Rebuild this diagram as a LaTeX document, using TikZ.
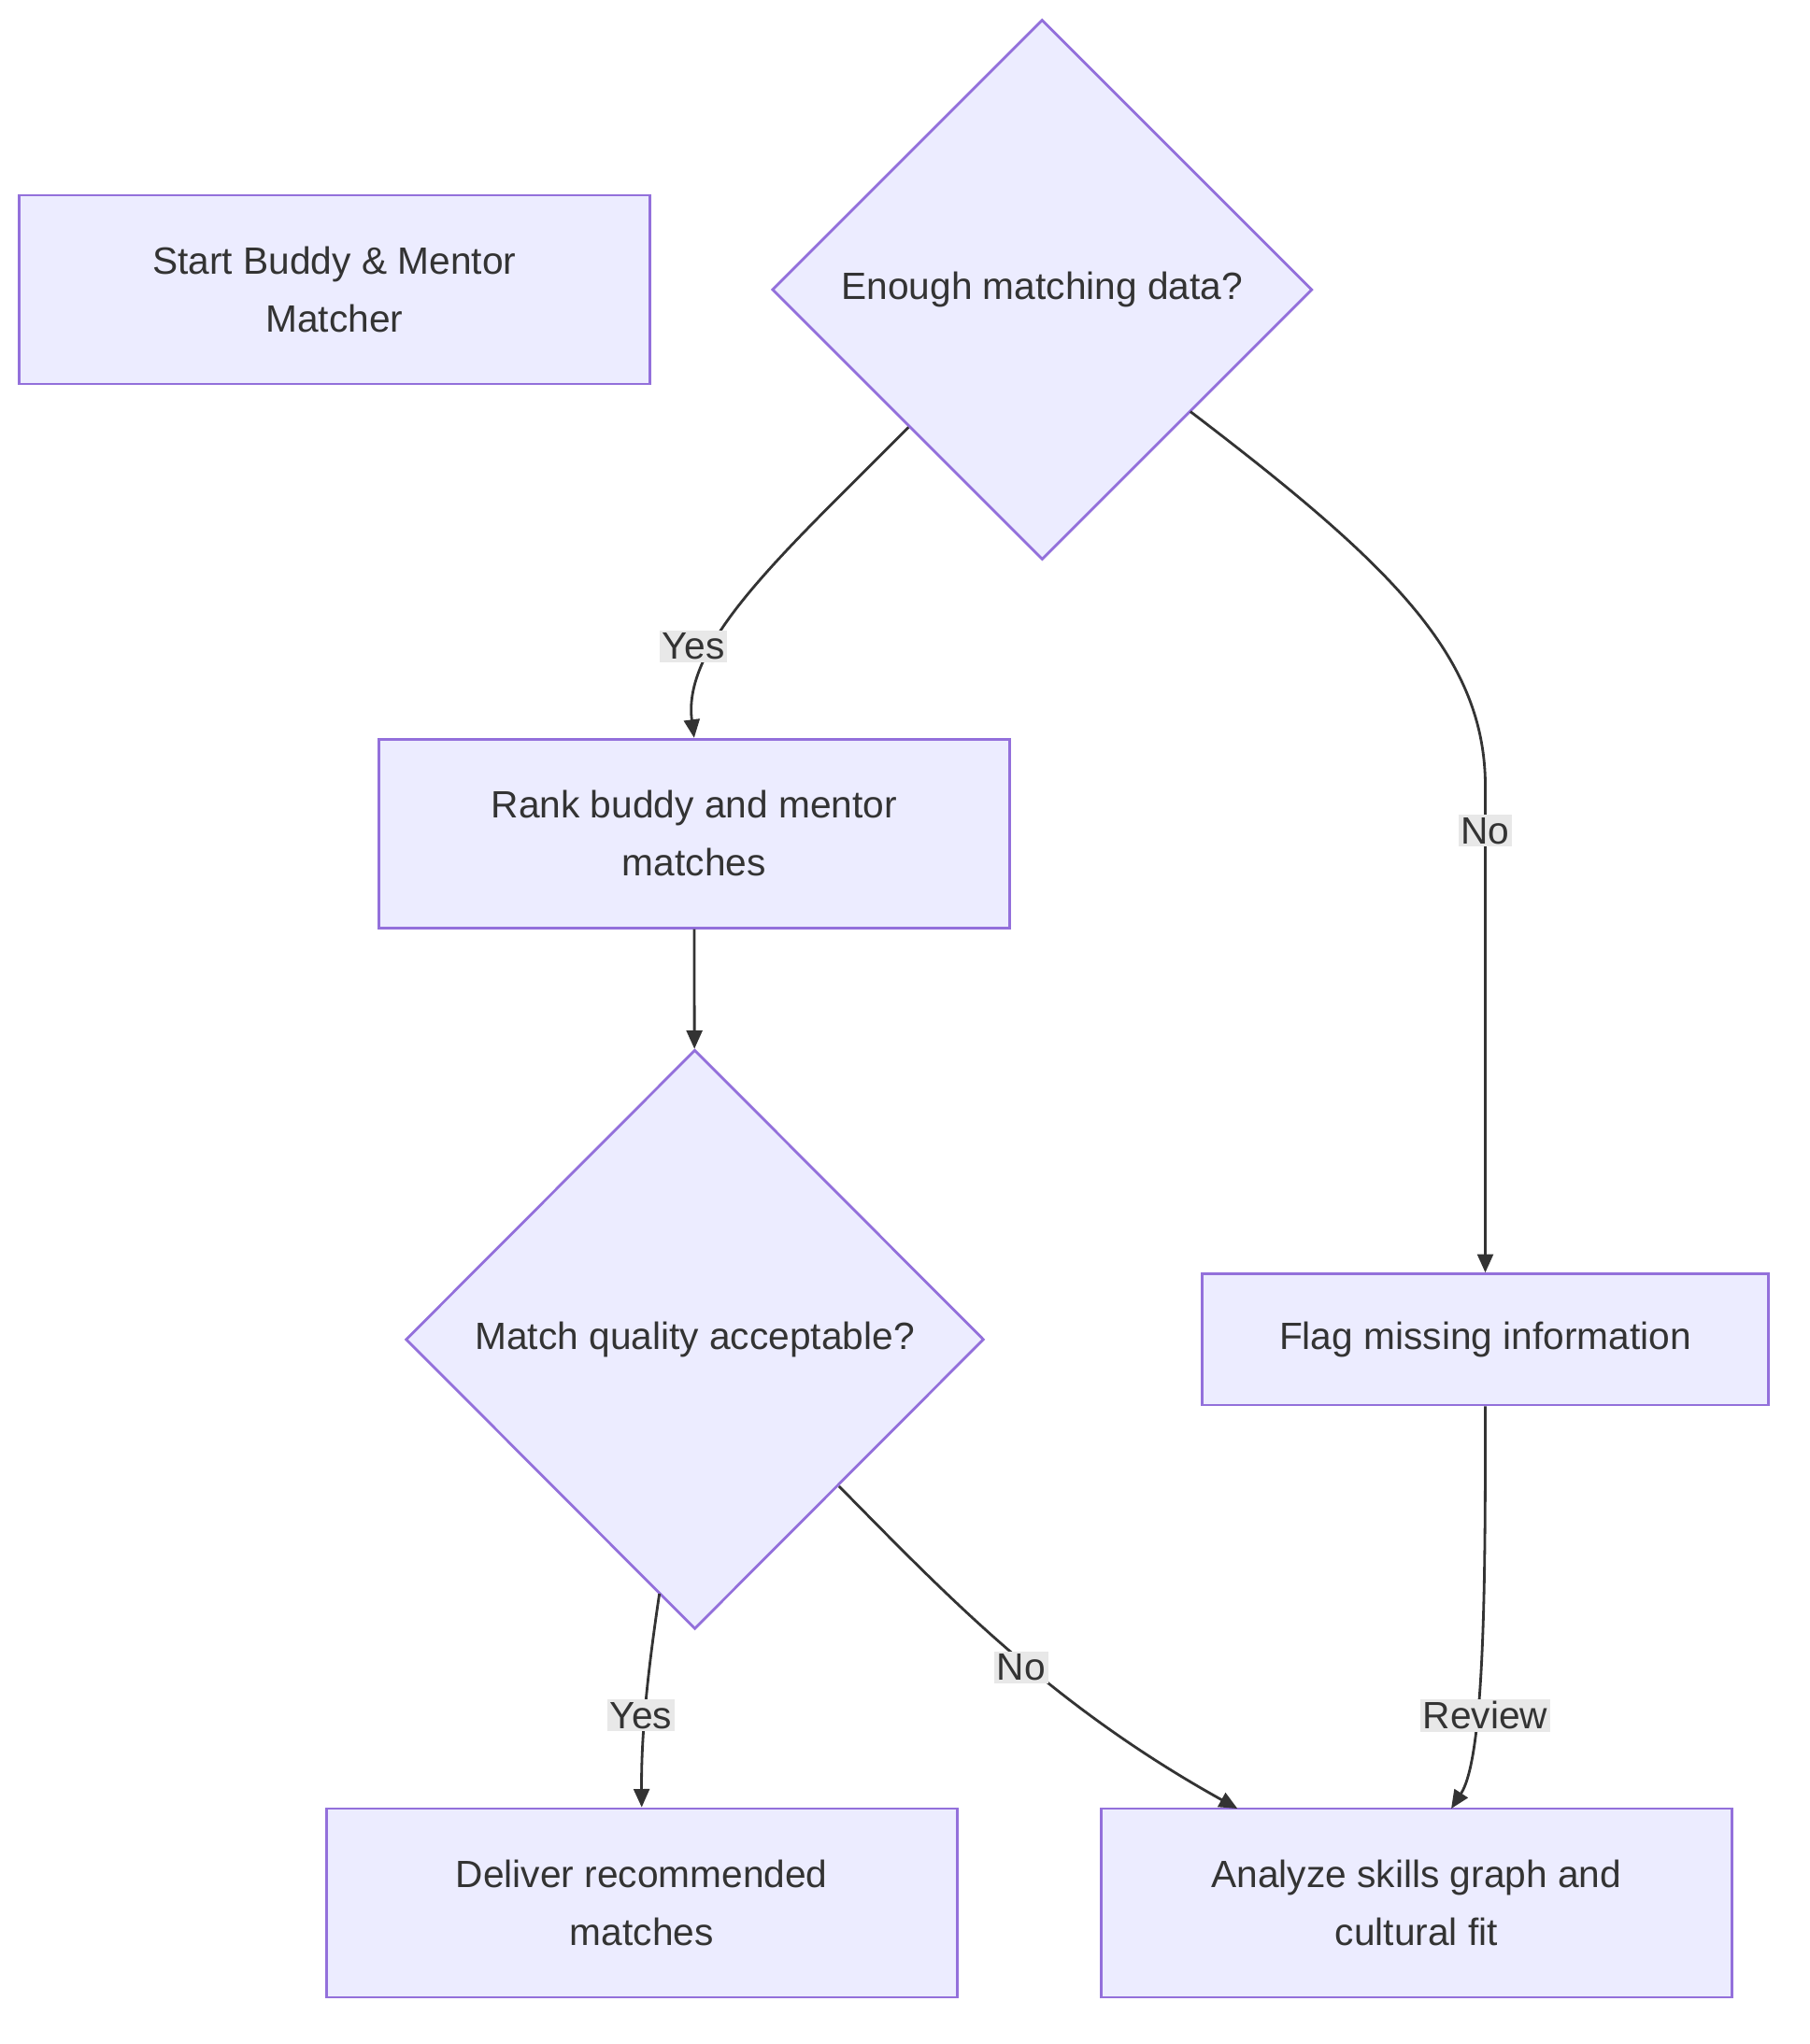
\documentclass[tikz,border=0pt]{standalone}
\usepackage{fontspec}
\setmainfont{Liberation Sans}
\usetikzlibrary{shapes.geometric,arrows.meta}
\definecolor{nfill}{HTML}{ECECFF}
\definecolor{nstroke}{HTML}{9370DB}
\definecolor{txt}{HTML}{333333}
\definecolor{lbg}{HTML}{E8E8E8}
\begin{document}
\begin{tikzpicture}[x=0.5pt,y=-0.5pt,
  box/.style={draw=nstroke,fill=nfill,line width=1pt,text=txt,align=center,font=\fontsize{14.5}{22}\selectfont,inner sep=0},
  edge/.style={draw=txt,line width=1pt,-{Triangle[length=7pt,width=6pt]}},
  lbl/.style={fill=lbg,text=txt,font=\fontsize{14.5}{17}\selectfont,inner sep=1pt}]
\useasboundingbox (0,0) rectangle (1380,1559.6);
\node[box,minimum width=240.5pt,minimum height=72pt] (start) at (255,221) {Start Buddy \& Mentor\\Matcher};
\node[box,diamond,minimum width=206pt,minimum height=206pt] (d1) at (795,221) {Enough matching data?};
\node[box,minimum width=240.5pt,minimum height=72pt] (rank) at (529.5,636) {Rank buddy and mentor\\matches};
\node[box,diamond,minimum width=220.5pt,minimum height=221pt] (d2) at (530,1022) {Match quality acceptable?};
\node[box,minimum width=216pt,minimum height=50pt] (flag) at (1133,1022) {Flag missing information};
\node[box,minimum width=240.5pt,minimum height=72pt] (deliver) at (489.5,1452) {Deliver recommended\\matches};
\node[box,minimum width=240.5pt,minimum height=72pt] (analyze) at (1080.5,1452) {Analyze skills graph and\\cultural fit};
\coordinate (a1) at (693,326);
\coordinate (a2) at (908,314);
\coordinate (a3) at (503,1216);
\coordinate (a4) at (640,1134);
\draw[edge] (a1) .. controls (600,420) and (520,490) .. (rank.north);
\node[lbl] at (529,493) {Yes};
\draw[edge] (a2) .. controls (1060,430) and (1133,500) .. (1133,600) -- (flag.north);
\node[lbl] at (1133,634) {No};
\draw[edge] (rank) -- (d2);
\draw[edge] (a3) .. controls (495,1270) and (489,1320) .. (deliver.north);
\node[lbl] at (489,1309) {Yes};
\draw[edge] (a4) .. controls (720,1215) and (800,1300) .. (944,1380);
\node[lbl] at (779,1272) {No};
\draw[edge] (flag.south) .. controls (1133,1200) and (1133,1340) .. (1107,1380);
\node[lbl] at (1133,1309) {Review};
\end{tikzpicture}
\end{document}
